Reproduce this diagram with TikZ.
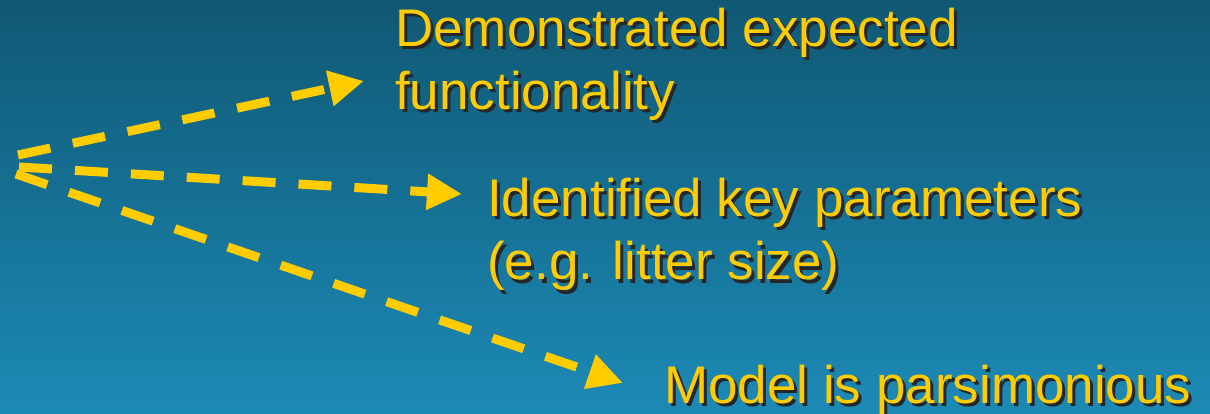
\documentclass[tikz,border=0pt]{standalone}
\usepackage{fontspec}
\setmainfont{Liberation Sans}
\usetikzlibrary{arrows.meta}
\definecolor{bgtop}{RGB}{16,88,116}
\definecolor{bgbot}{RGB}{28,138,182}
\definecolor{gold}{RGB}{255,204,0}
\tikzset{
  lbl/.style={anchor=base west, inner sep=0pt, text=gold, font=\fontsize{53}{63}\selectfont},
  lblshadow/.style={lbl, text=black!85},
  dasharrow/.style={draw=gold, line width=9pt, dash pattern=on 33pt off 23pt,
    -{Triangle[length=35pt,width=34pt]}}
}
\newcommand\twoline[2]{\begin{tabular}[t]{@{}l@{}}#1\\#2\end{tabular}}
\begin{document}
\begin{tikzpicture}[x=1pt,y=-1pt]
\shade[top color=bgtop, bottom color=bgbot] (0,0) rectangle (1210,414);
\useasboundingbox (0,0) rectangle (1210,414);
% texts (shadow then text)
\node[lblshadow] (t1s) at (398,50) {\twoline{Demonstrated expected}{functionality}};
\node[lbl] (t1) at (395,47) {\twoline{Demonstrated expected}{functionality}};
\node[lblshadow] (t2s) at (490,220) {\twoline{Identified key parameters}{(e.g. litter size)}};
\node[lbl] (t2) at (487,217) {\twoline{Identified key parameters}{(e.g. litter size)}};
\node[lblshadow] (t3s) at (667,406) {Model is parsimonious};
\node[lbl] (t3) at (664,403) {Model is parsimonious};
% arrows
\coordinate (s1) at (18,155);
\coordinate (s2) at (19,167);
\coordinate (s3) at (16,174);
\coordinate (e1) at (364,81);
\coordinate (e2) at (462,194);
\coordinate (e3) at (623,383);
\draw[dasharrow] (s1) -- (e1);
\draw[dasharrow] (s2) -- (e2);
\draw[dasharrow] (s3) -- (e3);
\end{tikzpicture}
\end{document}
